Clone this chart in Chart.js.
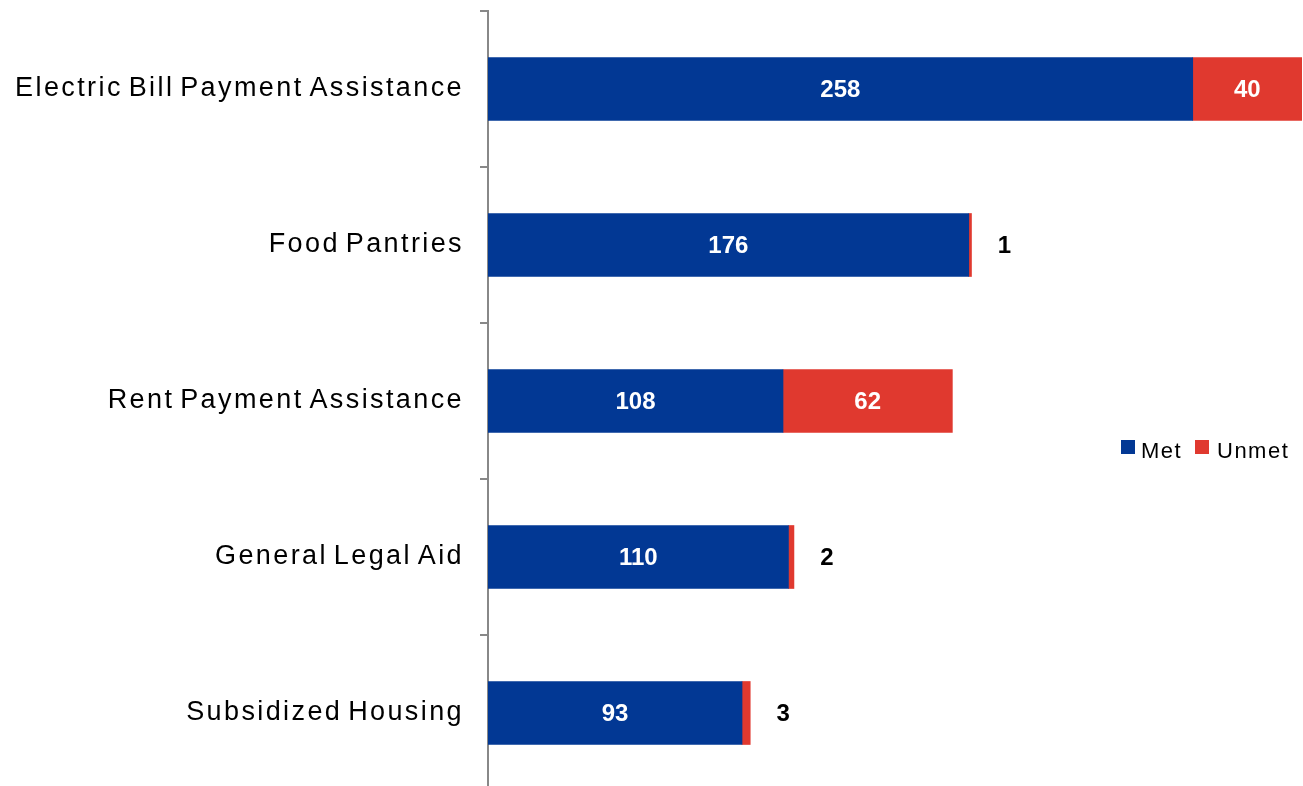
<!DOCTYPE html>
<html>
<head>
<meta charset="utf-8">
<script src="https://cdn.jsdelivr.net/npm/chart.js@4/dist/chart.umd.min.js"></script>
<style>
html,body{margin:0;padding:0;background:#fff;overflow:hidden;}
#wrap{position:relative;width:1303px;height:786px;overflow:hidden;}
canvas{display:block;}
</style>
</head>
<body>
<div id="wrap"><canvas id="c" width="1303" height="792"></canvas></div>
<script>
const categories = ["Electric Bill Payment Assistance", "Food Pantries", "Rent Payment Assistance", "General Legal Aid", "Subsidized Housing"];
const metValues = [258, 176, 108, 110, 93];
const unmetValues = [40, 1, 62, 2, 3];
const seriesNames = ["Met", "Unmet"];
const seriesColors = ["#023894", "#E0392F"];
const axisMax = 298;

const labelPlugin = {
  id: 'labels',
  beforeDraw(chart) { chart.ctx.letterSpacing = '2.4px'; chart.ctx.wordSpacing = '-4px'; },
  beforeDatasetsDraw(chart) { chart.ctx.letterSpacing = '0px'; chart.ctx.wordSpacing = '0px'; },
  afterDatasetsDraw(chart) {
    const ctx = chart.ctx;
    ctx.save();
    ctx.letterSpacing = '0px';
    ctx.font = 'bold 24px "Liberation Sans", Arial, sans-serif';
    ctx.textAlign = 'center';
    ctx.textBaseline = 'middle';
    chart.data.datasets.forEach((ds, di) => {
      const meta = chart.getDatasetMeta(di);
      meta.data.forEach((bar, i) => {
        const v = ds.data[i];
        const left = bar.base, right = bar.x;
        if (v >= 10) {
          ctx.fillStyle = '#ffffff';
          ctx.fillText(String(v), (left + right) / 2, bar.y + 1);
        } else {
          ctx.fillStyle = '#000000';
          ctx.fillText(String(v), right + 33, bar.y + 1);
        }
      });
    });
    // legend
    const ly = 447;
    ctx.font = '22px "Liberation Sans", Arial, sans-serif';
    ctx.letterSpacing = '1.5px';
    ctx.textAlign = 'left';
    const items = [{x: 1121, tx: 1141}, {x: 1195, tx: 1217}];
    items.forEach((it, k) => {
      ctx.fillStyle = seriesColors[k];
      ctx.fillRect(it.x, ly - 7, 14, 14);
      ctx.fillStyle = '#000';
      ctx.fillText(seriesNames[k], it.tx, ly + 5);
    });
    ctx.restore();
  }
};

new Chart(document.getElementById('c'), {
  type: 'bar',
  data: {
    labels: categories,
    datasets: [
      {label: seriesNames[0], data: metValues, backgroundColor: seriesColors[0], borderWidth: 0, barThickness: 63},
      {label: seriesNames[1], data: unmetValues, backgroundColor: seriesColors[1], borderWidth: 0, barThickness: 63}
    ]
  },
  options: {
    indexAxis: 'y',
    responsive: false,
    animation: false,
    layout: {padding: {top: 11, right: 1, bottom: 1, left: 0}},
    plugins: {legend: {display: false}, tooltip: {enabled: false}},
    scales: {
      x: {stacked: true, display: false, min: 0, max: axisMax},
      y: {
        stacked: true,
        offset: true,
        afterFit(scale) { scale.width = 488; scale.paddingTop = 0; scale.paddingBottom = 0; },
        grid: {offset: true, drawOnChartArea: false, tickLength: 8, color: '#888888', lineWidth: 2},
        border: {color: '#888888', width: 2},
        ticks: {color: '#000', padding: 16, font: {family: '"Liberation Sans", Arial, sans-serif', size: 27}}
      }
    }
  },
  plugins: [labelPlugin]
});
</script>
</body>
</html>
